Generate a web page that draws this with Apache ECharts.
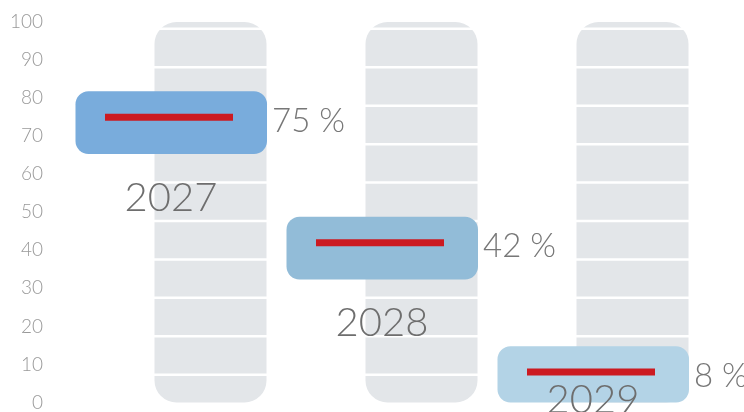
<!DOCTYPE html>
<html>
<head>
<meta charset="utf-8">
<script src="https://cdn.jsdelivr.net/npm/echarts@6/dist/echarts.min.js"></script>
<style>
  html, body { margin: 0; padding: 0; background: #fff; }
  #chart { width: 744px; height: 412px; }
</style>
</head>
<body>
<div id="chart"></div>
<script>
  // data
  var years = ['2027', '2028', '2029']
  var shares = [75, 42, 8]
  var fullScale = [100, 100, 100]
  var yMin = 0
  var yMax = 100
  var yStep = 10

  var boxColors = ['#79acdc', '#92bcd8', '#b3d3e6']
  var font = 'Lato'

  var chart = echarts.init(document.getElementById('chart'))

  chart.setOption({
    animation: false,
    grid: {
      left: 105,
      right: 6,
      top: 22,
      bottom: 7
    },
    xAxis: {
      type: 'category',
      data: years,
      axisLine: { show: false },
      axisTick: { show: false },
      axisLabel: { show: false }
    },
    yAxis: {
      type: 'value',
      min: yMin,
      max: yMax,
      interval: yStep,
      axisLine: { show: false },
      axisTick: { show: false },
      splitLine: { show: false },
      axisLabel: {
        margin: 62,
        color: '#999999',
        fontSize: 19,
        fontFamily: font,
        fontWeight: 300
      }
    },
    series: [
      {
        // grey background columns
        type: 'bar',
        data: fullScale,
        barWidth: 112,
        silent: true,
        itemStyle: {
          color: '#e3e6e9',
          borderRadius: 22
        },
        z: 1
      },
      {
        // white separators across the columns
        type: 'custom',
        data: years.map(function (y, i) { return [i, 100] }),
        silent: true,
        z: 2,
        renderItem: function (params, api) {
          var cx = api.coord([api.value(0), 0])[0]
          var kids = []
          for (var k = 0; k < 10; k++) {
            var y = api.coord([api.value(0), 7.3 + 10.1 * k])[1]
            kids.push({
              type: 'rect',
              shape: { x: cx - 57, y: y - 1.25, width: 114, height: 2.5 },
              style: { fill: '#ffffff' }
            })
          }
          return { type: 'group', children: kids }
        }
      },
      {
        // coloured box, red marker and labels
        type: 'custom',
        data: shares.map(function (v, i) { return [i, v] }),
        silent: true,
        z: 3,
        renderItem: function (params, api) {
          var i = api.value(0)
          var v = api.value(1)
          var p = api.coord([i, v])
          var cx = p[0]
          var top = api.coord([i, v + 6.8])[1]
          var bottom = api.coord([i, Math.max(0, v - 9.7)])[1]
          return {
            type: 'group',
            children: [
              {
                type: 'rect',
                shape: { x: cx - 135, y: top, width: 191.5, height: bottom - top, r: 13 },
                style: { fill: boxColors[params.dataIndex] }
              },
              {
                type: 'rect',
                shape: { x: cx - 105.5, y: p[1] - 3.5, width: 128, height: 7 },
                style: { fill: '#cc1a21' }
              },
              {
                type: 'text',
                style: {
                  x: cx + 61.5,
                  y: p[1] + 4,
                  text: v + ' %',
                  fill: '#777777',
                  fontSize: 33,
                  fontFamily: font,
                  fontWeight: 300,
                  align: 'left',
                  verticalAlign: 'middle'
                }
              },
              {
                type: 'text',
                style: {
                  x: cx - 39.5,
                  y: Math.min(p[1] + 80.5, 400),
                  text: years[params.dataIndex],
                  fill: '#6e6e6e',
                  fontSize: 40,
                  fontFamily: font,
                  fontWeight: 300,
                  align: 'center',
                  verticalAlign: 'middle'
                }
              }
            ]
          }
        }
      }
    ]
  })
</script>
</body>
</html>
